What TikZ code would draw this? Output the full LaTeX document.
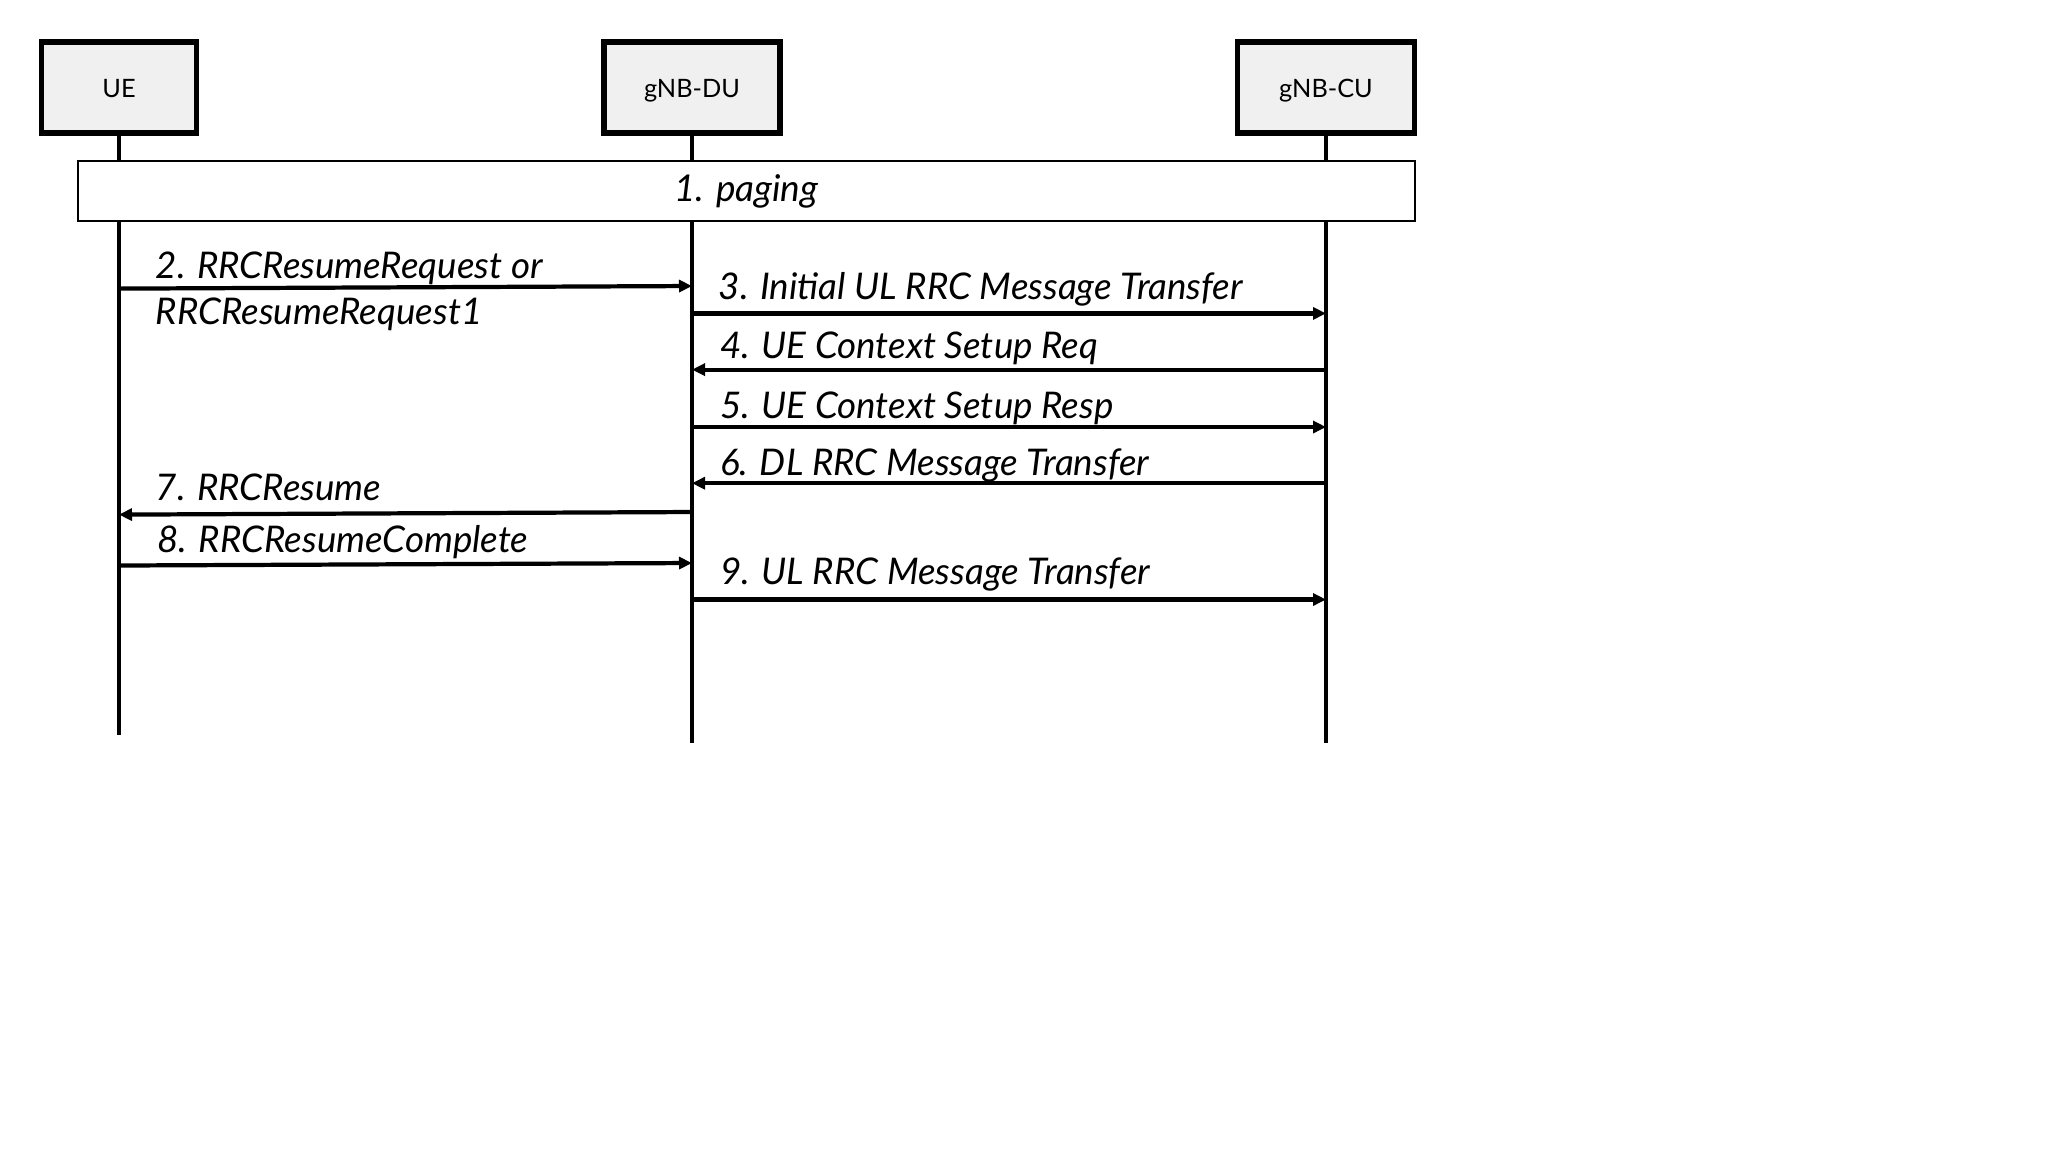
\documentclass[tikz,border=0pt]{standalone}
\usepackage{fontspec}
\setmainfont{Lato}
\usetikzlibrary{arrows.meta}
\tikzset{
  entity/.style={draw, line width=1.5pt, fill=black!6, minimum height=0.91cm,
    text height=1.15ex, text depth=0pt, font=\fontsize{7.2}{9}\selectfont},
  lifeline/.style={line width=1.1pt},
  msg/.style={line width=1.2pt, -{Triangle[length=0.13cm,width=0.12cm]}},
  msglabel/.style={anchor=base west, inner sep=0pt, font=\fontsize{10.45}{12}\selectfont\itshape},
}

\begin{document}
\begin{tikzpicture}[x=0.01cm,y=-0.01cm]
  \useasboundingbox (0,0) rectangle (2048,1153);
  \node (ue) [entity, minimum width=1.55cm] at (119,87.5) {UE};
  \node (du) [entity, minimum width=1.76cm] at (692,87.5) {gNB-DU};
  \node (cu) [entity, minimum width=1.77cm] at (1326,87.5) {gNB-CU};

  \path (119,735) coordinate (ueend);
  \path (692,743) coordinate (duend);
  \path (1326,743) coordinate (cuend);
  \draw[lifeline] (ue.south) -- (ueend);
  \draw[lifeline] (du.south) -- (duend);
  \draw[lifeline] (cu.south) -- (cuend);

  \node (paging) [draw, line width=0.6pt, fill=white, minimum width=13.36cm,
    minimum height=0.6cm, font=\fontsize{10.5}{12}\selectfont\itshape]
    at (746.4,191.2) {1. paging};

  % UE <-> gNB-DU
  \path (119,288.6) coordinate (ue2) (692,286) coordinate (du2);
  \path (692,512) coordinate (du7) (119,514.6) coordinate (ue7);
  \path (119,565.5) coordinate (ue8) (692,563) coordinate (du8);
  \draw[msg] (ue2) -- (du2);
  \draw[msg] (du7) -- (ue7);
  \draw[msg] (ue8) -- (du8);

  % gNB-DU <-> gNB-CU
  \path (692,313.4) coordinate (du3) (1326,313.4) coordinate (cu3);
  \path (1326,369.6) coordinate (cu4) (692,369.6) coordinate (du4);
  \path (692,427) coordinate (du5) (1326,427) coordinate (cu5);
  \path (1326,483.2) coordinate (cu6) (692,483.2) coordinate (du6);
  \path (692,599.5) coordinate (du9) (1326,599.5) coordinate (cu9);
  \draw[msg] (du3) -- (cu3);
  \draw[msg] (cu4) -- (du4);
  \draw[msg] (du5) -- (cu5);
  \draw[msg] (cu6) -- (du6);
  \draw[msg] (du9) -- (cu9);

  \node (l2a) [msglabel] at (155,278.5) {2. RRCResumeRequest or};
  \node (l2b) [msglabel] at (155,324.5) {RRCResumeRequest1};
  \node (l3) [msglabel] at (718,299.5) {3. Initial UL RRC Message Transfer};
  \node (l4) [msglabel] at (719.6,358.5) {4. UE Context Setup Req};
  \node (l5) [msglabel] at (719.6,418.5) {5. UE Context Setup Resp};
  \node (l6) [msglabel] at (719.6,475.5) {6. DL RRC Message Transfer};
  \node (l7) [msglabel] at (155,500.5) {7. RRCResume};
  \node (l8) [msglabel] at (156.7,552.5) {8. RRCResumeComplete};
  \node (l9) [msglabel] at (719.6,584.5) {9. UL RRC Message Transfer};
\end{tikzpicture}
\end{document}
